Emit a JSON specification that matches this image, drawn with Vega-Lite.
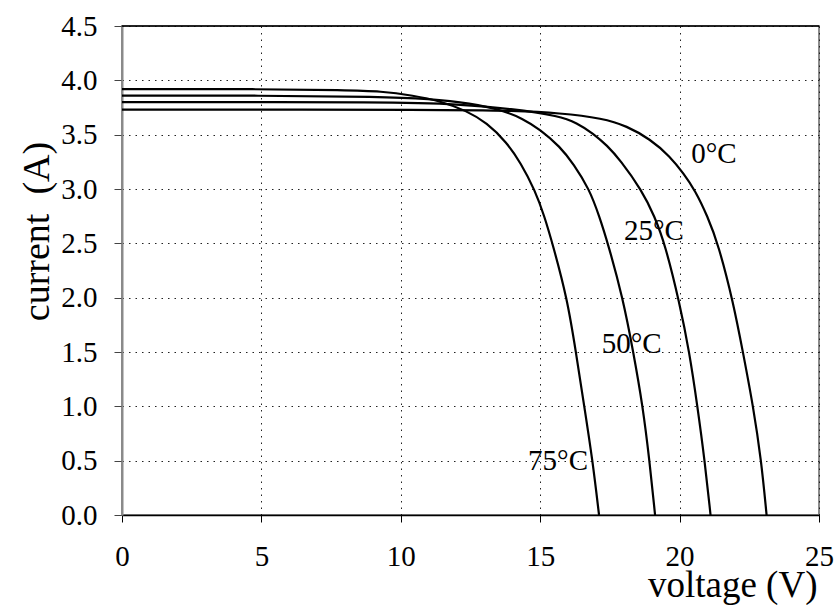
{
  "$schema": "https://vega.github.io/schema/vega-lite/v6.json",
  "autosize": {"type": "none"},
  "width": 697,
  "height": 489,
  "padding": {"left": 122, "top": 26, "right": 16, "bottom": 90},
  "background": "white",
  "config": {
    "view": {"stroke": "#8a8a8a", "strokeWidth": 2},
    "font": "Liberation Serif",
    "axis": {"labelFont": "Liberation Serif", "titleFont": "Liberation Serif", "labelColor": "black", "titleColor": "black", "titleFontWeight": "normal", "labelFlush": false, "labelOverlap": false}
  },
  "datasets": {
    "curves": [
      {"series": "75", "V": 0, "I": 3.92},
      {"series": "75", "V": 5, "I": 3.92},
      {"series": "75", "V": 8, "I": 3.91},
      {"series": "75", "V": 9.3, "I": 3.9},
      {"series": "75", "V": 10.45, "I": 3.86},
      {"series": "75", "V": 11.41, "I": 3.81},
      {"series": "75", "V": 12.36, "I": 3.72},
      {"series": "75", "V": 13.08, "I": 3.61},
      {"series": "75", "V": 13.8, "I": 3.43},
      {"series": "75", "V": 14.3, "I": 3.24},
      {"series": "75", "V": 14.81, "I": 2.99},
      {"series": "75", "V": 15.15, "I": 2.75},
      {"series": "75", "V": 15.45, "I": 2.49},
      {"series": "75", "V": 15.97, "I": 1.99},
      {"series": "75", "V": 16.28, "I": 1.5},
      {"series": "75", "V": 16.58, "I": 1.0},
      {"series": "75", "V": 16.88, "I": 0.5},
      {"series": "75", "V": 17.11, "I": 0},
      {"series": "50", "V": 0, "I": 3.86},
      {"series": "50", "V": 5, "I": 3.86},
      {"series": "50", "V": 9.3, "I": 3.85},
      {"series": "50", "V": 11, "I": 3.83},
      {"series": "50", "V": 12.5, "I": 3.79},
      {"series": "50", "V": 13.7, "I": 3.72},
      {"series": "50", "V": 14.35, "I": 3.65},
      {"series": "50", "V": 14.99, "I": 3.55},
      {"series": "50", "V": 15.71, "I": 3.39},
      {"series": "50", "V": 16.2, "I": 3.23},
      {"series": "50", "V": 16.76, "I": 3.0},
      {"series": "50", "V": 17.12, "I": 2.75},
      {"series": "50", "V": 17.44, "I": 2.49},
      {"series": "50", "V": 17.96, "I": 2.0},
      {"series": "50", "V": 18.34, "I": 1.5},
      {"series": "50", "V": 18.68, "I": 1.0},
      {"series": "50", "V": 18.92, "I": 0.5},
      {"series": "50", "V": 19.12, "I": 0},
      {"series": "25", "V": 0, "I": 3.8},
      {"series": "25", "V": 10, "I": 3.8},
      {"series": "25", "V": 12, "I": 3.78},
      {"series": "25", "V": 14, "I": 3.74},
      {"series": "25", "V": 15.71, "I": 3.67},
      {"series": "25", "V": 16.3, "I": 3.61},
      {"series": "25", "V": 16.91, "I": 3.51},
      {"series": "25", "V": 17.4, "I": 3.4},
      {"series": "25", "V": 17.86, "I": 3.27},
      {"series": "25", "V": 18.64, "I": 2.99},
      {"series": "25", "V": 19.1, "I": 2.75},
      {"series": "25", "V": 19.48, "I": 2.49},
      {"series": "25", "V": 20.0, "I": 1.95},
      {"series": "25", "V": 20.35, "I": 1.5},
      {"series": "25", "V": 20.64, "I": 1.0},
      {"series": "25", "V": 20.9, "I": 0.5},
      {"series": "25", "V": 21.11, "I": 0},
      {"series": "0", "V": 0, "I": 3.73},
      {"series": "0", "V": 12, "I": 3.73},
      {"series": "0", "V": 14, "I": 3.72},
      {"series": "0", "V": 15.71, "I": 3.7},
      {"series": "0", "V": 17.26, "I": 3.65},
      {"series": "0", "V": 18.1, "I": 3.58},
      {"series": "0", "V": 18.94, "I": 3.46},
      {"series": "0", "V": 19.66, "I": 3.3},
      {"series": "0", "V": 20.15, "I": 3.14},
      {"series": "0", "V": 20.55, "I": 2.99},
      {"series": "0", "V": 21.0, "I": 2.75},
      {"series": "0", "V": 21.39, "I": 2.49},
      {"series": "0", "V": 21.93, "I": 1.95},
      {"series": "0", "V": 22.27, "I": 1.5},
      {"series": "0", "V": 22.64, "I": 1.0},
      {"series": "0", "V": 22.93, "I": 0.5},
      {"series": "0", "V": 23.12, "I": 0}
    ],
    "labels": [
      {"text": "0°C", "V": 21.23, "I": 3.32},
      {"text": "25°C", "V": 19.08, "I": 2.61},
      {"text": "50°C", "V": 18.28, "I": 1.57},
      {"text": "75°C", "V": 15.64, "I": 0.5}
    ]
  },
  "layer": [
    {
      "data": {"name": "curves"},
      "mark": {"type": "line", "color": "black", "strokeWidth": 2.2, "interpolate": "basis", "clip": true},
      "encoding": {
        "x": {
          "field": "V", "type": "quantitative",
          "scale": {"domain": [0, 25], "nice": false, "zero": false},
          "axis": {
            "values": [0, 5, 10, 15, 20, 25],
            "format": "d",
            "title": "voltage (V)",
            "titleFontSize": 37,
            "titleAnchor": "end",
            "titleAlign": "right",
            "titleBaseline": "alphabetic",
            "titleX": 695,
            "titleY": 81,
            "labelFontSize": 29,
            "labelPadding": 20,
            "tickSize": 7,
            "tickColor": "black",
            "domainColor": "black",
            "domainWidth": 1.5,
            "grid": true,
            "gridColor": "#222",
            "gridDash": [1.5, 5],
            "gridWidth": 1
          }
        },
        "y": {
          "field": "I", "type": "quantitative",
          "scale": {"domain": [0, 4.5], "nice": false, "zero": false},
          "axis": {
            "values": [0, 0.5, 1, 1.5, 2, 2.5, 3, 3.5, 4, 4.5],
            "format": ".1f",
            "title": "current\u00a0 (A)",
            "titleFontSize": 38,
            "titleAngle": 270,
            "titleAlign": "center",
            "titleBaseline": "alphabetic",
            "titleX": -74,
            "titleY": 205,
            "labelFontSize": 29,
            "labelPadding": 17,
            "tickSize": 8,
            "tickColor": "#444",
            "domainColor": "#8a8a8a",
            "domainWidth": 2,
            "grid": true,
            "gridColor": "#222",
            "gridDash": [1.5, 5],
            "gridWidth": 1
          }
        },
        "detail": {"field": "series", "type": "nominal"}
      }
    },
    {
      "data": {"values": [{"top": 4.5}]},
      "mark": {"type": "rule", "color": "black", "strokeWidth": 1.5},
      "encoding": {"y": {"field": "top", "type": "quantitative"}}
    },
    {
      "data": {"name": "labels"},
      "mark": {"type": "text", "fontSize": 29, "font": "Liberation Serif", "color": "black", "align": "center", "baseline": "middle"},
      "encoding": {
        "x": {"field": "V", "type": "quantitative"},
        "y": {"field": "I", "type": "quantitative"},
        "text": {"field": "text"}
      }
    }
  ]
}
